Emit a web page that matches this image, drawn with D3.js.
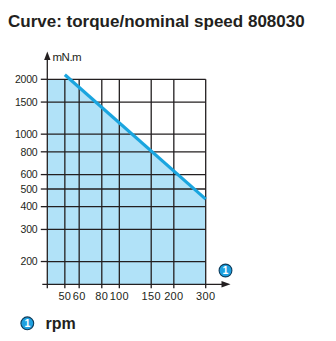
<!DOCTYPE html>
<html>
<head>
<meta charset="utf-8">
<script src="https://cdn.jsdelivr.net/npm/d3@7"></script>
<style>
  html, body { margin: 0; padding: 0; background: #fff; }
  svg { display: block; font-family: "Liberation Sans", Arial, Helvetica, sans-serif; }
</style>
</head>
<body>
<svg id="chart" width="336" height="341"></svg>
<script>
// Torque vs nominal speed, log-log
const speedTicks = [50, 60, 80, 100, 150, 200, 300];
const torqueTicks = [200, 300, 400, 500, 600, 800, 1000, 1500, 2000];
const curveSpeed = [50, 300];      // rpm
const curveTorque = [2120, 440];   // mN.m
const speedDomain = [40, 300];
const torqueDomain = [150, 2000];

const svg = d3.select("#chart");
const ink = "#231f20";
const fillBlue = "#b1e2f8";
const lineBlue = "#1aa5df";

const x = d3.scaleLog().domain(speedDomain).range([47.3, 205.7]);
const y = d3.scaleLog().domain(torqueDomain).range([284.3, 79.3]);

// title
svg.append("text")
  .attr("x", 8).attr("y", 27)
  .attr("font-size", 17).attr("font-weight", "bold")
  .attr("fill", ink)
  .text("Curve: torque/nominal speed 808030");

// area under the curve, capped at the top of the grid
const clipId = "plot-clip";
svg.append("clipPath").attr("id", clipId)
  .append("rect")
  .attr("x", x(speedDomain[0])).attr("y", y(torqueDomain[1]))
  .attr("width", x(speedDomain[1]) - x(speedDomain[0]))
  .attr("height", y(torqueDomain[0]) - y(torqueDomain[1]));

const areaPts = [{s: speedDomain[0], t: torqueDomain[1]}]
  .concat(curveSpeed.map((s, i) => ({s, t: curveTorque[i]})));

svg.append("path")
  .datum(areaPts)
  .attr("clip-path", `url(#${clipId})`)
  .attr("fill", fillBlue)
  .attr("d", d3.area()
    .x(d => x(d.s))
    .y0(y(torqueDomain[0]))
    .y1(d => y(d.t)));

// grid
const grid = svg.append("g").attr("stroke", ink).attr("stroke-width", 1.3);
grid.selectAll("line.h").data(torqueTicks).join("line")
  .attr("x1", x(speedDomain[0])).attr("x2", x(speedDomain[1]))
  .attr("y1", d => y(d)).attr("y2", d => y(d));
grid.selectAll("line.v").data(speedTicks).join("line")
  .attr("x1", d => x(d)).attr("x2", d => x(d))
  .attr("y1", y(torqueDomain[0])).attr("y2", y(torqueDomain[1]));

// torque curve
svg.append("path")
  .datum(curveSpeed.map((s, i) => ({s, t: curveTorque[i]})))
  .attr("fill", "none")
  .attr("stroke", lineBlue)
  .attr("stroke-width", 3.2)
  .attr("d", d3.line().x(d => x(d.s)).y(d => y(d.t)));

// axes
const x0 = x(speedDomain[0]), yb = y(torqueDomain[0]);
const axes = svg.append("g").attr("stroke", ink).attr("stroke-width", 1.3);
axes.append("line").attr("x1", x0).attr("x2", x0).attr("y1", yb + 4).attr("y2", 58);
axes.append("line").attr("x1", x0 - 5).attr("x2", 223).attr("y1", yb).attr("y2", yb);
axes.selectAll("line.yt").data(torqueTicks).join("line")
  .attr("x1", x0 - 6.5).attr("x2", x0)
  .attr("y1", d => y(d)).attr("y2", d => y(d));
axes.selectAll("line.xt").data(speedTicks).join("line")
  .attr("x1", d => x(d)).attr("x2", d => x(d))
  .attr("y1", yb).attr("y2", yb + 4);

// arrow heads
svg.append("path").attr("fill", ink)
  .attr("d", `M${x0},51.5 L${x0 + 3.2},60 L${x0 - 3.2},60 Z`);
svg.append("path").attr("fill", ink)
  .attr("d", `M230.5,${yb} L221.5,${yb - 3.2} L221.5,${yb + 3.2} Z`);

// tick labels
svg.append("g").selectAll("text").data(torqueTicks).join("text")
  .attr("x", 37.5).attr("y", d => y(d) + 3.7)
  .attr("text-anchor", "end")
  .attr("font-size", 10.5).attr("fill", ink)
  .attr("letter-spacing", -0.2)
  .text(d => d);

svg.append("g").selectAll("text").data(speedTicks).join("text")
  .attr("x", d => x(d)).attr("y", 300)
  .attr("text-anchor", "middle")
  .attr("font-size", 11).attr("fill", ink)
  .attr("letter-spacing", 0.3)
  .text(d => d);

// unit labels
svg.append("text")
  .attr("x", 52.5).attr("y", 60.5)
  .attr("font-size", 11.5).attr("fill", ink)
  .attr("letter-spacing", -0.5)
  .text("mN.m");

function badge(cx, cy) {
  const g = svg.append("g");
  g.append("circle").attr("cx", cx).attr("cy", cy).attr("r", 6.4)
    .attr("fill", "#1ea0e0").attr("stroke", "#0d3c5c").attr("stroke-width", 1.1);
  g.append("text").attr("x", cx).attr("y", cy + 3.8)
    .attr("text-anchor", "middle").attr("font-size", 10.5)
    .attr("font-weight", "bold").attr("fill", "#fff").text("1");
}
badge(225.5, 270.5);
badge(27.3, 323.3);

svg.append("text")
  .attr("x", 45.5).attr("y", 328.5)
  .attr("font-size", 16).attr("font-weight", "bold")
  .attr("fill", ink)
  .text("rpm");
</script>
</body>
</html>
